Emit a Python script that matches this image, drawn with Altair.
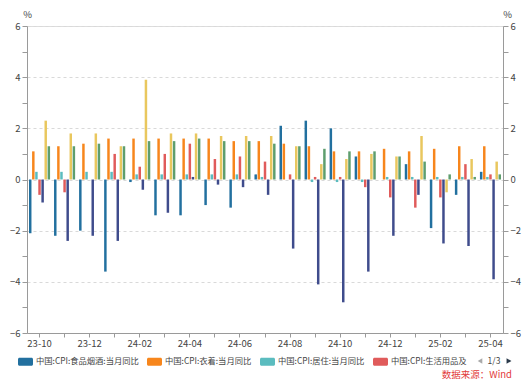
import altair as alt
import pandas as pd

FONT = "Noto Sans CJK SC"

months = ["23-10", "23-11", "23-12", "24-01", "24-02", "24-03", "24-04", "24-05",
          "24-06", "24-07", "24-08", "24-09", "24-10", "24-11", "24-12", "25-01",
          "25-02", "25-03", "25-04"]
shown_labels = months[::2]

series = [
    "中国:CPI:食品烟酒:当月同比",
    "中国:CPI:衣着:当月同比",
    "中国:CPI:居住:当月同比",
    "中国:CPI:生活用品及服务:当月同比",
    "中国:CPI:交通通信:当月同比",
    "中国:CPI:教育文化娱乐:当月同比",
    "中国:CPI:医疗保健:当月同比",
]
colors = ["#22709f", "#f7861c", "#5bbcbf", "#e05b5b", "#3f4c8c", "#e9c75e", "#5e9e6e"]

food      = [-2.1, -2.2, -2.0, -3.6, -0.1, -1.4, -1.4, -1.0, -1.1, 0.2, 2.1, 2.3, 2.0, 0.9, 0.0, 0.6, -1.9, -0.6, 0.3]
clothing  = [1.1, 1.3, 1.4, 1.6, 1.6, 1.6, 1.6, 1.6, 1.5, 1.5, 1.4, 1.3, 1.1, 1.1, 1.2, 1.1, 1.2, 1.3, 1.3]
housing   = [0.3, 0.3, 0.3, 0.3, 0.2, 0.2, 0.2, 0.2, 0.2, 0.1, 0.0, -0.1, -0.1, -0.1, 0.1, 0.1, 0.1, 0.1, 0.1]
household = [-0.6, -0.5, 0.0, 1.0, 0.5, 1.0, 1.4, 0.8, 0.9, 0.7, 0.2, 0.1, 0.1, -0.3, -0.7, -1.1, -0.7, 0.6, 0.2]
transport = [-0.9, -2.4, -2.2, -2.4, -0.4, -1.3, 0.1, -0.2, -0.3, -0.6, -2.7, -4.1, -4.8, -3.6, -2.2, -0.6, -2.5, -2.6, -3.9]
education = [2.3, 1.8, 1.8, 1.3, 3.9, 1.8, 1.8, 1.7, 1.7, 1.7, 1.3, 0.6, 0.8, 1.0, 0.9, 1.7, -0.5, 0.8, 0.7]
health    = [1.3, 1.3, 1.4, 1.3, 1.5, 1.5, 1.6, 1.5, 1.5, 1.4, 1.3, 1.2, 1.1, 1.1, 0.9, 0.7, 0.2, 0.1, 0.2]

values_by_series = [food, clothing, housing, household, transport, education, health]
rows = []
for s, vals in zip(series, values_by_series):
    for m, v in zip(months, vals):
        rows.append({"month": m, "series": s, "value": v})
df = pd.DataFrame(rows)

W, H = 476, 307
AXIS_GRAY = "#9a9a9a"
LABEL_GRAY = "#444444"

label_list = "[" + ",".join("'%s'" % m for m in shown_labels) + "]"
x_enc = alt.X(
    "month:N", sort=months,
    scale=alt.Scale(paddingInner=0, paddingOuter=0),
    axis=alt.Axis(title=None, labelAngle=0, labelOverlap=False,
                  labelExpr="indexof(%s, datum.value) >= 0 ? datum.value : ''" % label_list,
                  tickSize=4, labelPadding=1, domainColor=AXIS_GRAY, tickColor=AXIS_GRAY,
                  labelColor=LABEL_GRAY, labelFontSize=9.5, labelFont=FONT, grid=False),
)
xo_enc = alt.XOffset("series:N", sort=series,
                     scale=alt.Scale(paddingInner=0.2, paddingOuter=0.64))

yvals = list(range(-6, 7))
common_axis = dict(values=yvals, title="%", titleAngle=0, titleY=-12,
                   titleAlign="center", titleBaseline="middle", titleFontSize=9.5,
                   titleFont=FONT, titleColor=LABEL_GRAY, titleFontWeight="normal",
                   labelExpr="datum.value % 2 == 0 ? datum.label : ''",
                   labelFontSize=9.5, labelFont=FONT, labelColor=LABEL_GRAY,
                   tickSize=5, labelPadding=2, domainColor=AXIS_GRAY, tickColor=AXIS_GRAY)

y_left = alt.Y("value:Q", scale=alt.Scale(domain=[-6, 6], nice=False, zero=False),
               axis=alt.Axis(orient="left", titleX=0,
                             grid=True, gridColor="#d9d9d9", gridDash=[3, 3],
                             gridOpacity={"condition": {"test": "datum.value % 2 == 0", "value": 1}, "value": 0},
                             **common_axis))
y_right = alt.Y("value:Q", scale=alt.Scale(domain=[-6, 6], nice=False, zero=False),
                axis=alt.Axis(orient="right", titleX=4, grid=False, **common_axis))

PILL = ("M-0.8,-0.533 L0.8,-0.533 A0.2,0.2 0 0 1 1,-0.333 L1,0.333 "
        "A0.2,0.2 0 0 1 0.8,0.533 L-0.8,0.533 A0.2,0.2 0 0 1 -1,0.333 "
        "L-1,-0.333 A0.2,0.2 0 0 1 -0.8,-0.533 Z")

legend = alt.Legend(orient="none", legendX=-9, legendY=328, direction="horizontal",
                    title=None, values=series[:4], symbolType=PILL, symbolSize=225,
                    symbolStrokeWidth=0, symbolOpacity=1, labelFontSize=8.3, labelFont=FONT,
                    labelColor=LABEL_GRAY, labelOffset=3, columnPadding=8, labelLimit=300,
                    labelExpr="datum.label == '中国:CPI:生活用品及服务:当月同比' ? '中国:CPI:生活用品及' : datum.label",
                    padding=0)

bars = alt.Chart(df).mark_bar().encode(
    x=x_enc, xOffset=xo_enc, y=y_left,
    color=alt.Color("series:N", scale=alt.Scale(domain=series, range=colors), legend=legend),
)
bars_right = alt.Chart(df).mark_bar(opacity=0).encode(
    x=x_enc, xOffset=xo_enc, y=y_right,
)

one = alt.Data(values=[{"k": 1}])
pager_left = alt.Chart(one).mark_point(shape="triangle-left", filled=True, size=28,
                                       color="#aaaaaa", opacity=1).encode(
    x=alt.value(453), y=alt.value(335))
pager_text = alt.Chart(one).mark_text(text="1/3", font=FONT, fontSize=8.5,
                                      color=LABEL_GRAY, align="center", baseline="middle").encode(
    x=alt.value(467), y=alt.value(335))
pager_right = alt.Chart(one).mark_point(shape="triangle-right", filled=True, size=32,
                                        color="#2b3a4a", opacity=1).encode(
    x=alt.value(482), y=alt.value(335))
source = alt.Chart(one).mark_text(text="数据来源：Wind", font=FONT, fontSize=9.5,
                                  color="#e23a3a", align="right", baseline="middle").encode(
    x=alt.value(485), y=alt.value(349))

chart = alt.layer(bars, bars_right, pager_left, pager_text, pager_right, source).resolve_scale(
    y="independent"
).properties(
    width=W, height=H,
    autosize=alt.AutoSizeParams(type="none"),
    padding={"left": 19, "top": 18, "right": 19, "bottom": 48},
).configure_view(stroke=None).configure(font=FONT)

chart.save("out.html", embed_options={"renderer": "svg", "actions": False})
